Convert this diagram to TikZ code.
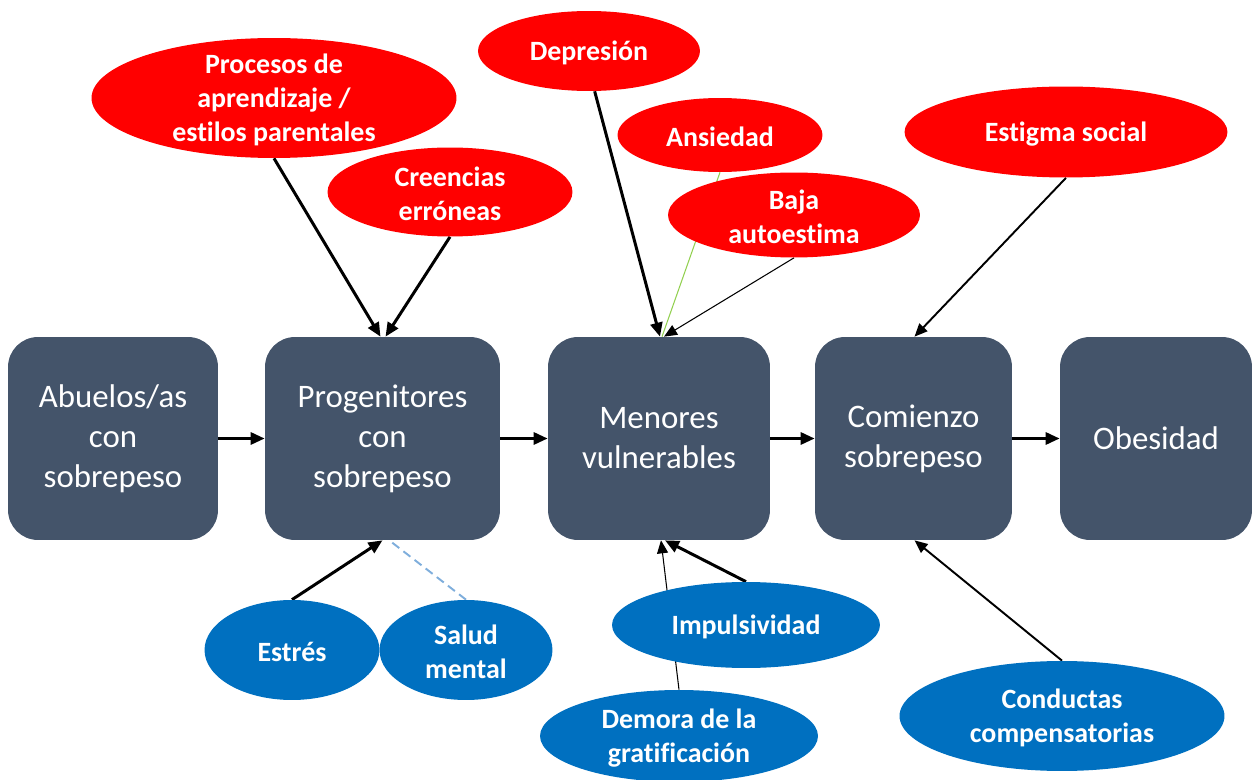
\documentclass[tikz,border=0pt]{standalone}
\usepackage{fontspec}
\setmainfont{Carlito}[RawFeature={-liga;-clig;-dlig}]
\usetikzlibrary{shapes.geometric,arrows.meta,backgrounds,calc}
\definecolor{boxc}{HTML}{44546A}
\definecolor{redc}{HTML}{FF0000}
\definecolor{bluec}{HTML}{0070C0}
\definecolor{dashc}{HTML}{7FAEDC}
\definecolor{greenc}{HTML}{92D050}
\begin{document}
\begin{tikzpicture}[x=0.02cm,y=-0.02cm,
  box/.style={fill=boxc, rounded corners=0.6cm, minimum height=4.06cm, text=white,
    font=\fontsize{18.7}{22.7}\selectfont, align=center, inner sep=0},
  ell/.style={ellipse, inner sep=0},
  redell/.style={ell, fill=redc},
  blueell/.style={ell, fill=bluec},
  lbl/.style={text=white, font=\bfseries\fontsize{15.9}{19.3}\selectfont, align=center, inner sep=0, yshift=-1.2pt},
  tip/.style={-{Triangle[length=0.28cm,width=0.24cm]}},
  thickarr/.style={tip, line width=1.7pt, black},
  medarr/.style={-{Triangle[length=0.26cm,width=0.22cm]}, line width=1.1pt, black},
  thinarr/.style={-{Triangle[length=0.26cm,width=0.22cm]}, line width=0.6pt, black},
]
\useasboundingbox (0,0) rectangle (1255,780);

% boxes
\node[box, minimum width=4.2cm]  (b1) at (113,438.5) {Abuelos/as\\con\\sobrepeso};
\node[box, minimum width=4.7cm]  (b2) at (382.5,438.5) {Progenitores\\con\\sobrepeso};
\node[box, minimum width=4.44cm] (b3) at (659,438.5) {Menores\\vulnerables};
\node[box, minimum width=3.94cm] (b4) at (913.5,438.5) {Comienzo\\sobrepeso};
\node[box, minimum width=3.84cm] (b5) at (1156,438.5) {Obesidad};

% red ellipses
\node[redell, minimum width=7.3cm, minimum height=2.4cm, label={[lbl]center:Procesos de\\aprendizaje /\\estilos parentales}] (proc) at (274,98) {};
\node[redell, minimum width=4.9cm, minimum height=1.78cm, label={[lbl]center:Creencias\\erróneas}] (cree) at (450,192) {};
\node[redell, minimum width=4.44cm, minimum height=1.6cm, label={[lbl]center:Depresión}] (dep) at (589,51) {};
\node[redell, minimum width=4.1cm, minimum height=1.48cm, label={[lbl]center:Ansiedad}] (ans) at (720,135) {};
\node[redell, minimum width=5.04cm, minimum height=1.7cm, label={[lbl]center:Baja\\autoestima}] (baja) at (794,215) {};
\node[redell, minimum width=6.46cm, minimum height=1.82cm, label={[lbl]center:Estigma social}] (est) at (1066,132) {};

% blue ellipses
\node[blueell, minimum width=3.5cm, minimum height=2.0cm, label={[lbl]center:Estrés}] (estr) at (292,650) {};
\node[blueell, minimum width=3.46cm, minimum height=2.0cm, label={[lbl]center:Salud\\mental}] (salud) at (466,650) {};
\node[blueell, minimum width=5.36cm, minimum height=1.72cm, label={[lbl]center:Impulsividad}] (imp) at (746,625) {};
\node[blueell, minimum width=5.56cm, minimum height=1.84cm, label={[lbl]center:Demora de la\\gratificación}] (dem) at (679,736) {};
\node[blueell, minimum width=6.5cm, minimum height=2.2cm, label={[lbl]center:Conductas\\compensatorias}] (cond) at (1062,716) {};

% connectors
\begin{scope}[on background layer]
\draw[thickarr] (b1.east) -- (b2.west);
\draw[thickarr] (b2.east) -- (b3.west);
\draw[thickarr] (b3.east) -- (b4.west);
\draw[thickarr] (b4.east) -- (b5.west);

\draw[thickarr] (proc.south) -- ($(b2.north)+(-2,0)$);
\draw[thickarr] (cree.south) -- ($(b2.north)+(3,0)$);
\draw[thickarr] (dep.-82) -- ($(b3.north)+(1,0)$);
\draw[greenc, line width=0.6pt] (ans.south) -- ($(b3.north)+(3,0)$);
\draw[thinarr] (baja.south) -- ($(b3.north)+(5,0)$);
\draw[medarr] (est.south) -- ($(b4.north)+(1,0)$);

\draw[thickarr] (estr.north) -- ($(b2.south)+(0,0)$);
\draw[dashc, line width=1.1pt, dash pattern=on 5pt off 3pt] (salud.north) -- ($(b2.south)+(8,1)$);
\draw[thickarr] (imp.north) -- ($(b3.south)+(6,0)$);
\draw[thinarr] (dem.north) -- ($(b3.south)+(2,0)$);
\draw[medarr] (cond.north) -- ($(b4.south)+(1,0)$);
\end{scope}
\end{tikzpicture}
\end{document}
